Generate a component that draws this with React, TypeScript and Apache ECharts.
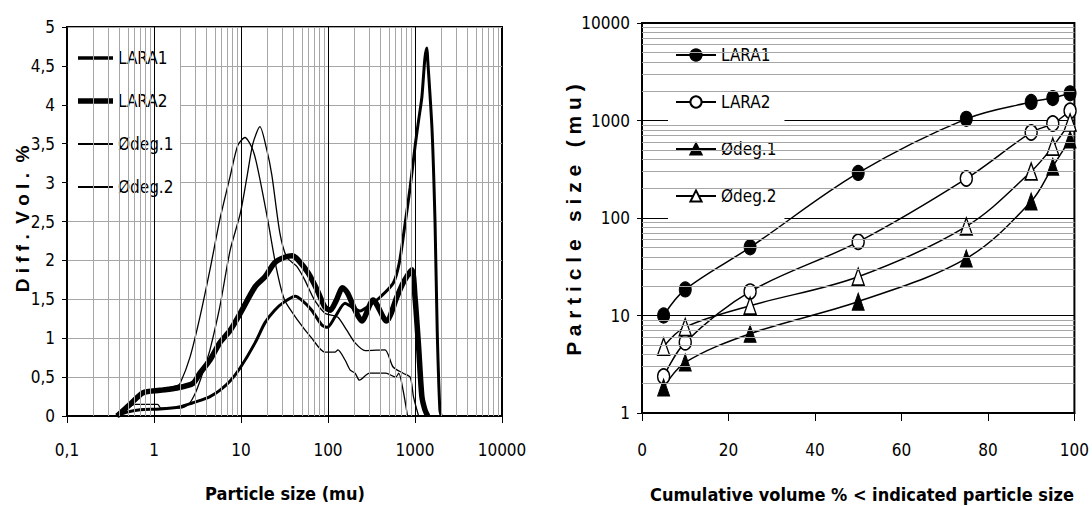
import React, { useEffect, useRef } from "react";
import * as echarts from "echarts";

// ---------- Left chart: differential volume distribution ----------
const psdNames = ["LARA1", "LARA2", "Ødeg.1", "Ødeg.2"];

const lara1Diff: [number, number][] = [
  [0.376, 0], [0.49, 0.05], [0.69, 0.08], [1.17, 0.09], [2.0, 0.12], [2.8, 0.17],
  [3.4, 0.2], [4.4, 0.25], [5.7, 0.33], [7.5, 0.45], [9.8, 0.62], [14.5, 0.94],
  [18.9, 1.2], [24.4, 1.36], [31.7, 1.47], [42, 1.54], [50, 1.49], [65, 1.36],
  [85, 1.17], [98, 1.14], [120, 1.27], [157, 1.45], [188, 1.4], [233, 1.35],
  [300, 1.42], [400, 1.53], [563, 1.71], [660, 1.97], [760, 2.43], [880, 2.94],
  [1000, 3.46], [1100, 3.8], [1200, 4.1], [1300, 4.6], [1370, 4.73], [1400, 4.58],
  [1570, 3.68], [1700, 2.48], [1800, 1.1], [1930, 0.08], [2000, 0],
];
const lara2Diff: [number, number][] = [
  [0.376, 0], [0.53, 0.15], [0.75, 0.3], [1.17, 0.33], [1.84, 0.36], [2.8, 0.42],
  [3.37, 0.55], [4.4, 0.72], [5.7, 0.94], [7.5, 1.1], [9.8, 1.32], [14.5, 1.66],
  [18.9, 1.79], [24.4, 1.97], [31.7, 2.04], [39, 2.06], [45, 2.01], [59, 1.84],
  [75, 1.62], [92, 1.4], [106, 1.36], [125, 1.49], [147, 1.65], [168, 1.58],
  [205, 1.36], [245, 1.22], [330, 1.49], [470, 1.22], [620, 1.53], [730, 1.71],
  [920, 1.88], [1000, 1.53], [1100, 0.89], [1200, 0.25], [1300, 0.08], [1400, 0],
];
const odeg1Diff: [number, number][] = [
  [0.376, 0], [0.53, 0.16], [0.75, 0.31], [1.17, 0.34], [1.84, 0.39], [2.0, 0.42],
  [2.6, 0.76], [3.37, 1.27], [4.4, 1.88], [5.7, 2.52], [7.5, 3.08], [9.2, 3.48],
  [11.1, 3.58], [13.7, 3.42], [15.7, 3.16], [20.3, 2.52], [25.7, 1.88], [31.7, 1.49],
  [45, 1.23], [65, 1.0], [92, 0.82], [120, 0.82], [130, 0.85], [157, 0.72],
  [180, 0.59], [205, 0.55], [230, 0.46], [300, 0.55], [460, 0.55], [600, 0.5],
  [650, 0.55], [730, 0.33], [820, 0],
];
const odeg2Diff: [number, number][] = [
  [0.376, 0], [0.5, 0.1], [0.6, 0.15], [1.1, 0.15], [1.2, 0.1], [2.0, 0.1],
  [2.5, 0.15], [3.0, 0.3], [3.5, 0.5], [4.0, 0.7], [4.4, 0.85], [5.7, 1.4],
  [7.5, 2.13], [9.8, 2.6], [11.7, 3.07], [13.7, 3.5], [16.5, 3.72], [19.8, 3.42],
  [22.6, 3.1], [28, 2.35], [33.6, 2.04], [44, 1.92], [54, 1.75], [70, 1.49],
  [92, 1.32], [106, 1.3], [130, 1.27], [165, 1.1], [205, 0.94], [268, 0.84],
  [450, 0.85], [560, 0.63], [730, 0.55], [880, 0.5], [960, 0.25], [1100, 0],
];
const leftDecades = [0.1, 1, 10, 100, 1000];
const leftMajorLines = [1, 10, 100, 1000];

// ---------- Right chart: cumulative distribution ----------
const cumulativePct = [5, 10, 25, 50, 75, 90, 95, 99];
const lara1Size = [10, 18.5, 50, 290, 1040, 1550, 1700, 1900];
const lara2Size = [2.37, 5.3, 17.6, 57, 254, 754, 931, 1260];
const odeg1Size = [1.83, 3.3, 6.5, 13.9, 38.5, 148, 337, 640];
const odeg2Size = [4.8, 7.6, 12.6, 25, 82, 300, 540, 955];
const rightDecades = [1, 10, 100, 1000];

const NARROW = '"DejaVu Sans Condensed", "Liberation Sans Narrow", "Liberation Sans", sans-serif';
const WIDE = '"Liberation Sans", Arial, sans-serif';
const GRID_GRAY = "#a6a6a6";

const minorsOf = (decades: number[]) => {
  const out: number[] = [];
  decades.forEach((d) => {
    for (let k = 2; k <= 9; k++) out.push(+(k * d).toPrecision(6));
  });
  return out;
};

const barIcon = (h: number) => `path://M0,0H35V${h}H0Z`;

function leftOption(): any {
  const lineWidths = [3, 5.5, 1.3, 1.3];
  const dataSets = [lara1Diff, lara2Diff, odeg1Diff, odeg2Diff];
  const iconHeights = [3.5, 5.5, 1.8, 1.8];
  return {
    animation: false,
    backgroundColor: "#fff",
    grid: { left: 67, top: 27, width: 435, height: 389, show: true, borderColor: "#000", borderWidth: 2, backgroundColor: "transparent" },
    xAxis: {
      type: "log", logBase: 10, min: 0.1, max: 10000, splitNumber: 5,
      axisLine: { lineStyle: { color: "#000", width: 2 } },
      axisTick: { show: true, inside: false, length: 7, lineStyle: { color: "#000" } },
      axisLabel: { margin: 25, fontFamily: NARROW, fontSize: 17, color: "#000",
        formatter: (v: number) => String(v).replace(".", ",") },
      splitLine: { show: false },
    },
    yAxis: {
      type: "value", min: 0, max: 5, interval: 0.5,
      axisLine: { show: true, lineStyle: { color: "#000", width: 1.5 } },
      axisTick: { show: true, length: 5, lineStyle: { color: "#000" } },
      axisLabel: { margin: 12, fontFamily: NARROW, fontSize: 17, color: "#000",
        formatter: (v: number) => String(v).replace(".", ",") },
      splitLine: { show: true, lineStyle: { color: GRID_GRAY, width: 1 } },
    },
    legend: {
      orient: "vertical", left: 68, top: 33,
      data: psdNames.map((n, i) => ({ name: n, icon: barIcon(iconHeights[i]) })),
      backgroundColor: "#fff", padding: [14, 7, 12, 10], itemGap: 21,
      itemWidth: 35, itemHeight: 14,
      textStyle: { fontFamily: NARROW, fontSize: 17, color: "#000", lineHeight: 22 },
    },
    series: [
      {
        type: "line", name: "minorGrid", data: [], silent: true, z: 1,
        markLine: {
          silent: true, symbol: ["none", "none"], label: { show: false },
          lineStyle: { color: GRID_GRAY, width: 1, type: "solid" },
          data: minorsOf(leftDecades).map((v) => ({ xAxis: v })),
        },
      },
      {
        type: "line", name: "majorGrid", data: [], silent: true, z: 1,
        markLine: {
          silent: true, symbol: ["none", "none"], label: { show: false },
          lineStyle: { color: "#000", width: 1, type: "solid" },
          data: leftMajorLines.map((v) => ({ xAxis: v })),
        },
      },
      ...psdNames.map((n, i) => ({
        type: "line", name: n, data: dataSets[i], showSymbol: false, symbol: "none",
        smooth: 0.25, z: 3,
        lineStyle: { color: "#000", width: lineWidths[i] },
        itemStyle: { color: "#000" },
      })),
    ],
    graphic: [
      { type: "text", x: 285, y: 493, style: { text: "Particle size (mu)", align: "center", verticalAlign: "middle",
        fontFamily: NARROW, fontWeight: "bold", fontSize: 18, fill: "#000" } },
      { type: "text", x: 22, y: 219, rotation: Math.PI / 2, style: { text: "D i f f .  V o l .  %", align: "center", verticalAlign: "middle",
        fontFamily: WIDE, fontWeight: "bold", fontSize: 19, fill: "#000" } },
    ],
  };
}

function rightOption(): any {
  const sizes = [lara1Size, lara2Size, odeg1Size, odeg2Size];
  const symbols = ["circle", "circle", "triangle", "triangle"];
  const filled = [true, false, true, false];
  const symSizes = [[12, 15], [12, 15], [12, 17], [12, 17]];
  return {
    animation: false,
    backgroundColor: "#fff",
    grid: { left: 96, top: 23, width: 435, height: 390, show: true, borderColor: "#000", borderWidth: 2, backgroundColor: "transparent" },
    xAxis: {
      type: "value", min: 0, max: 100, interval: 20,
      axisLine: { lineStyle: { color: "#000", width: 2 } },
      axisTick: { show: true, length: 8, lineStyle: { color: "#000" } },
      axisLabel: { margin: 28, fontFamily: NARROW, fontSize: 17, color: "#000" },
      splitLine: { show: false },
    },
    yAxis: {
      type: "log", logBase: 10, min: 1, max: 10000, splitNumber: 4,
      axisLine: { show: true, lineStyle: { color: "#000", width: 1.5 } },
      axisTick: { show: true, length: 5, lineStyle: { color: "#000" } },
      axisLabel: { margin: 12, fontFamily: NARROW, fontSize: 17, color: "#000",
        formatter: (v: number) => String(v) },
      splitLine: { show: true, lineStyle: { color: "#000", width: 1 } },
    },
    legend: {
      orient: "vertical", left: 122, top: 30, data: psdNames,
      backgroundColor: "#fff", padding: [14, 8, 14, 7], itemGap: 25,
      itemWidth: 40, itemHeight: 14,
      textStyle: { fontFamily: NARROW, fontSize: 17, color: "#000", lineHeight: 22 },
    },
    series: [
      {
        type: "line", name: "minorGrid", data: [], silent: true, z: 1,
        markLine: {
          silent: true, symbol: ["none", "none"], label: { show: false },
          lineStyle: { color: GRID_GRAY, width: 1, type: "solid" },
          data: minorsOf(rightDecades).map((v) => ({ yAxis: v })),
        },
      },
      ...psdNames.map((n, i) => ({
        type: "line", name: n,
        data: cumulativePct.map((p, j) => [p, sizes[i][j]]),
        symbol: symbols[i], symbolSize: symSizes[i], showSymbol: true,
        smooth: 0.35, z: 3,
        lineStyle: { color: "#000", width: 1.5 },
        itemStyle: filled[i]
          ? { color: "#000", borderColor: "#000", borderWidth: 1 }
          : { color: "#fff", borderColor: "#000", borderWidth: 1.5 },
      })),
    ],
    graphic: [
      { type: "text", x: 316, y: 494, style: { text: "Cumulative volume % < indicated particle size", align: "center", verticalAlign: "middle",
        fontFamily: NARROW, fontWeight: "bold", fontSize: 18, fill: "#000" } },
      { type: "text", x: 27, y: 220, rotation: Math.PI / 2, style: { text: "P a r t i c l e   s i z e   ( m u )", align: "center", verticalAlign: "middle",
        fontFamily: WIDE, fontWeight: "bold", fontSize: 21, fill: "#000" } },
    ],
  };
}

export default function App() {
  const leftRef = useRef<HTMLDivElement>(null);
  const rightRef = useRef<HTMLDivElement>(null);
  useEffect(() => {
    const l = echarts.init(leftRef.current!, undefined, { renderer: "svg" });
    const r = echarts.init(rightRef.current!, undefined, { renderer: "svg" });
    l.setOption(leftOption());
    r.setOption(rightOption());
    return () => {
      l.dispose();
      r.dispose();
    };
  }, []);
  return (
    <div style={{ position: "fixed", left: 0, top: 0, width: 1092, height: 506, background: "#fff" }}>
      <div ref={leftRef} style={{ position: "absolute", left: 0, top: 0, width: 546, height: 506 }} />
      <div ref={rightRef} style={{ position: "absolute", left: 546, top: 0, width: 546, height: 506 }} />
    </div>
  );
}
